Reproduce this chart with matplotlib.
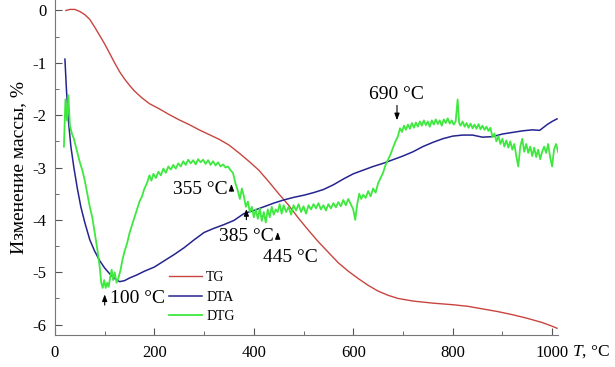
import numpy as np
import matplotlib
matplotlib.use('Agg')
import matplotlib.pyplot as plt
from matplotlib.ticker import MultipleLocator

plt.rcParams['font.family'] = ['Liberation Serif', 'DejaVu Serif']
plt.rcParams['mathtext.fontset'] = 'custom'
plt.rcParams['mathtext.rm'] = 'Liberation Serif'
plt.rcParams['mathtext.it'] = 'Liberation Serif:italic'

# TG curve (mass change, %)
tg_t = [22, 30, 40, 50, 60, 70, 80, 90, 100, 110, 120, 130, 140, 150, 160, 175,
        190, 210, 230, 250, 270, 290, 310, 330, 350, 370, 390, 410, 430, 450,
        470, 490, 510, 530, 550, 570, 590, 610, 630, 650, 670, 690, 720, 760,
        800, 830, 860, 890, 920, 950, 980, 1000, 1010]
tg_v = [0.0, 0.02, 0.02, -0.02, -0.08, -0.17, -0.32, -0.48, -0.64, -0.82, -1.0,
        -1.17, -1.31, -1.43, -1.54, -1.67, -1.78, -1.88, -1.99, -2.09, -2.18,
        -2.28, -2.37, -2.46, -2.57, -2.72, -2.88, -3.05, -3.27, -3.50, -3.72,
        -3.97, -4.20, -4.42, -4.62, -4.82, -4.98, -5.12, -5.25, -5.36, -5.44,
        -5.50, -5.55, -5.59, -5.62, -5.65, -5.70, -5.75, -5.81, -5.88, -5.96,
        -6.03, -6.07]

# DTA curve
dta_t = [20, 23, 27, 32, 38, 45, 52, 60, 70, 80, 90, 100, 110, 120, 130, 140,
         150, 165, 180, 200, 220, 240, 260, 280, 300, 320, 340, 360, 380, 400,
         420, 440, 460, 480, 500, 520, 540, 560, 580, 600, 620, 640, 660, 680,
         700, 720, 740, 760, 780, 800, 820, 840, 860, 880, 900, 920, 940, 960,
         975, 990, 1000, 1010]
dta_v = [-0.93, -1.5, -2.1, -2.6, -3.0, -3.4, -3.75, -4.05, -4.38, -4.6, -4.78,
         -4.92, -5.03, -5.12, -5.18, -5.16, -5.11, -5.05, -4.98, -4.90, -4.78,
         -4.66, -4.53, -4.38, -4.24, -4.16, -4.09, -4.01, -3.88, -3.82, -3.75,
         -3.68, -3.62, -3.57, -3.53, -3.48, -3.42, -3.33, -3.22, -3.12, -3.05,
         -2.98, -2.92, -2.85, -2.78, -2.70, -2.60, -2.52, -2.45, -2.40, -2.38,
         -2.38, -2.42, -2.41, -2.36, -2.33, -2.30, -2.28, -2.29, -2.18, -2.12,
         -2.07]

# DTG curve (noisy, read point by point)
dtg_t = [18, 21, 24, 27, 30, 34, 38, 42, 46, 50, 55, 60, 65, 70, 75, 80, 85, 90,
         93, 96, 99, 102, 105, 108, 111, 114, 117, 120, 124, 128, 132, 136, 140,
         145, 150, 155, 160, 165, 170, 175, 180, 185, 190, 194, 198, 203, 208,
         213, 218, 223, 228, 233, 238, 243, 248, 253, 258, 263, 268, 273, 278,
         283, 288, 293, 298, 303, 308, 313, 318, 323, 328, 333, 338, 343, 348,
         353, 358, 363, 368, 372, 376, 380, 384, 388, 392, 396, 400, 404, 408,
         412, 416, 420, 424, 428, 432, 436, 440, 444, 448, 452, 456, 460, 465,
         470, 475, 480, 485, 490, 495, 500, 505, 510, 515, 520, 525, 530, 535,
         540, 545, 550, 555, 560, 565, 570, 575, 580, 585, 590, 595, 600, 604,
         608, 612, 616, 620, 625, 630, 635, 640, 645, 650, 655, 660, 665, 670,
         675, 680, 685, 690, 694, 698, 702, 706, 710, 714, 718, 722, 726, 730,
         734, 738, 742, 746, 750, 754, 758, 762, 766, 770, 774, 778, 782, 786,
         790, 794, 798, 802, 806, 810, 813, 816, 820, 824, 828, 832, 836, 840,
         844, 848, 852, 856, 860, 864, 868, 872, 876, 880, 884, 888, 892, 896,
         900, 904, 908, 912, 916, 920, 924, 928, 932, 936, 940, 944, 948, 952,
         956, 960, 964, 968, 972, 976, 980, 984, 988, 992, 996, 1000, 1004,
         1008, 1012]
dtg_v = [-2.60, -1.70, -2.10, -1.62, -2.20, -2.35, -2.45, -2.60, -2.75, -2.90,
         -3.05, -3.25, -3.50, -3.75, -3.95, -4.25, -4.55, -4.90, -5.20, -5.30,
         -5.15, -5.30, -5.20, -5.28, -5.10, -4.95, -5.15, -5.00, -5.20, -5.10,
         -4.95, -4.75, -4.60, -4.45, -4.25, -4.10, -3.95, -3.80, -3.65, -3.55,
         -3.40, -3.30, -3.15, -3.25, -3.12, -3.20, -3.08, -3.15, -3.02, -3.10,
         -2.98, -3.04, -2.95, -3.02, -2.92, -2.98, -2.88, -2.95, -2.85, -2.92,
         -2.86, -2.94, -2.84, -2.90, -2.85, -2.93, -2.86, -2.95, -2.88, -2.96,
         -2.90, -2.98, -2.94, -3.00, -2.98, -3.05, -3.10, -3.30, -3.45, -3.60,
         -3.40, -3.55, -3.75, -3.65, -3.85, -3.75, -3.95, -3.80, -3.98, -3.78,
         -4.02, -3.85, -4.05, -3.80, -3.95, -3.75, -3.90, -3.80, -3.85, -3.70,
         -3.88, -3.72, -3.85, -3.75, -3.90, -3.72, -3.82, -3.70, -3.85, -3.74,
         -3.88, -3.72, -3.80, -3.70, -3.78, -3.68, -3.80, -3.72, -3.82, -3.70,
         -3.78, -3.68, -3.76, -3.66, -3.74, -3.62, -3.72, -3.60, -3.70, -3.80,
         -4.00, -3.70, -3.50, -3.60, -3.52, -3.58, -3.45, -3.55, -3.40, -3.48,
         -3.30, -3.20, -3.10, -2.95, -2.85, -2.75, -2.62, -2.50, -2.40, -2.25,
         -2.32, -2.20, -2.28, -2.18, -2.26, -2.15, -2.24, -2.14, -2.22, -2.12,
         -2.20, -2.10, -2.19, -2.12, -2.22, -2.10, -2.18, -2.08, -2.17, -2.10,
         -2.20, -2.08, -2.15, -2.06, -2.16, -2.10, -2.18, -2.12, -1.70, -2.15,
         -2.20, -2.12, -2.22, -2.15, -2.24, -2.16, -2.25, -2.18, -2.26, -2.17,
         -2.27, -2.20, -2.28, -2.22, -2.30, -2.24, -2.42, -2.35, -2.50, -2.40,
         -2.55, -2.45, -2.60, -2.48, -2.62, -2.50, -2.66, -2.55, -2.78, -2.98,
         -2.60, -2.45, -2.70, -2.55, -2.72, -2.60, -2.78, -2.62, -2.80, -2.66,
         -2.84, -2.70, -2.60, -2.72, -2.55, -2.80, -2.98, -2.65, -2.55, -2.70]

x_ticks = [0, 200, 400, 600, 800, 1000]
y_ticks = [0, -1, -2, -3, -4, -5, -6]


def deg(t):
    return str(t) + ' \u00b0C'


fig = plt.figure(figsize=(6.15, 3.67), dpi=100)
ax = fig.add_axes([0.0894, 0.087, 0.818, 0.913])

ax.plot(tg_t, tg_v, color='#c8453f', lw=1.0, label='TG')
ax.plot(dta_t, dta_v, color='#25258f', lw=1.1, label='DTA')
ax.plot(dtg_t, dtg_v, color='#3ee83e', lw=1.3, label='DTG')

ax.set_xlim(0, 1012)
ax.set_ylim(-6.2, 0.2)
ax.set_xticks(x_ticks)
ax.set_yticks(y_ticks)
ax.set_yticklabels([str(v) for v in y_ticks])
ax.xaxis.set_minor_locator(MultipleLocator(100))
ax.yaxis.set_minor_locator(MultipleLocator(0.5))
ax.tick_params(which='both', direction='in', labelsize=12, color='#555555')
ax.tick_params(which='major', length=5)
ax.tick_params(which='minor', length=3)
ax.tick_params(axis='x', pad=7)
ax.tick_params(axis='y', pad=6)
for s in ['top', 'right']:
    ax.spines[s].set_visible(False)
for s in ['left', 'bottom']:
    ax.spines[s].set_color('#777777')
    ax.spines[s].set_linewidth(0.8)

ax.set_ylabel('Изменение массы, %', fontsize=14, labelpad=4)
fig.text(572 / 615, 1 - 352 / 367, r'$T$, ' + '\u00b0C', fontsize=12.5,
         ha='left', va='center')

ap = dict(arrowstyle='-|>,head_length=0.4,head_width=0.15', color='black', lw=0.8)
fs = 14
# 100 C
ax.annotate('', xy=(100, -5.37), xytext=(100, -5.68), arrowprops=ap)
ax.text(110, -5.5, deg(100), fontsize=fs, ha='left', va='center')
# 355 C
ax.annotate('', xy=(355, -3.26), xytext=(355, -3.50), arrowprops=ap)
ax.text(347, -3.42, deg(355), fontsize=fs, ha='right', va='center')
# 385 C
ax.annotate('', xy=(385, -3.74), xytext=(385, -4.05), arrowprops=ap)
ax.text(385, -4.32, deg(385), fontsize=fs, ha='center', va='center')
# 445 C
ax.annotate('', xy=(448, -4.18), xytext=(448, -4.40), arrowprops=ap)
ax.text(474, -4.72, deg(445), fontsize=fs, ha='center', va='center')
# 690 C
ax.annotate('', xy=(688, -2.15), xytext=(688, -1.76), arrowprops=ap)
ax.text(686, -1.60, deg(690), fontsize=fs, ha='center', va='center')

ax.legend(loc='lower left', bbox_to_anchor=(0.215, 0.02), frameon=False,
          fontsize=10, handlelength=2.4, handletextpad=0.3, labelspacing=0.45,
          borderaxespad=0)

fig.savefig('out.png', dpi=100)
